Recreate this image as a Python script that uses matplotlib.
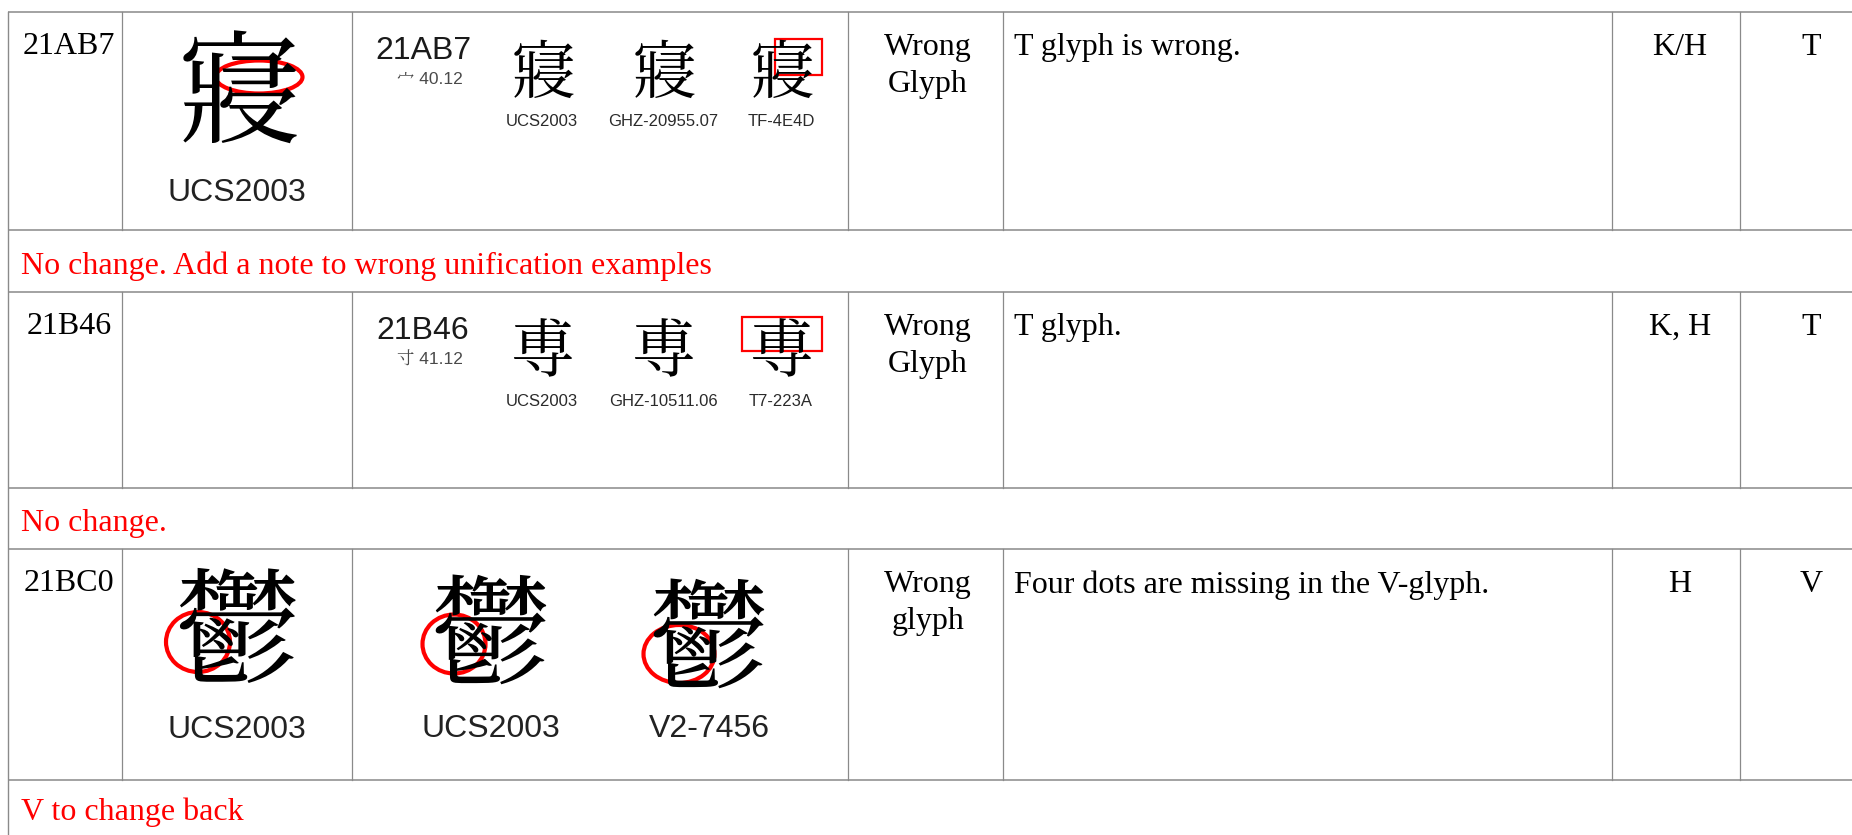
import matplotlib
matplotlib.use("Agg")
import matplotlib.pyplot as plt
from matplotlib import font_manager as fm
from matplotlib.ft2font import FT2Font
from matplotlib.patches import Ellipse, Rectangle

# ---------------- data (table content) ----------------
codes = ["21AB7", "21B46", "21BC0"]
code_points = [0x21AB7, 0x21B46, 0x21BC0]
# closest look-alike characters, used only when no installed font has the code point
lookalikes = ["寢", "尃", "鬱"]
radicals = ["宀 40.12", "寸 41.12", ""]
main_labels = ["UCS2003", "", "UCS2003"]
source_labels = [["UCS2003", "GHZ-20955.07", "TF-4E4D"],
                 ["UCS2003", "GHZ-10511.06", "T7-223A"],
                 ["UCS2003", "V2-7456"]]
issue_types = ["Wrong\nGlyph", "Wrong\nGlyph", "Wrong\nglyph"]
descriptions = ["T glyph is wrong.", "T glyph.", "Four dots are missing in the V-glyph."]
submitters = ["K/H", "K, H", "H"]
targets = ["T", "T", "V"]
notes = ["No change. Add a note to wrong unification examples",
         "No change.",
         "V to change back"]

# ---------------- fonts ----------------
names = {f.name for f in fm.fontManager.ttflist}
narrow = "Liberation Sans Narrow" in names
SANS_LABEL = ["Liberation Sans Narrow"] if narrow else ["Liberation Sans"]
BIG_LABEL = 27 if narrow else 23
SMALL_LABEL = 14.5 if narrow else 12

cjk_pref = ["Noto Serif CJK TC", "Noto Serif CJK SC", "Noto Serif CJK JP",
            "Noto Sans CJK TC", "Noto Sans CJK SC", "Noto Sans CJK JP",
            "Noto Sans CJK KR"]


def cjk_glyph(cp, alt):
    """Return (character, family): the real code point if some installed
    CJK family covers it, else the look-alike character."""
    for fam in cjk_pref:
        for f in fm.fontManager.ttflist:
            if f.name == fam:
                try:
                    if cp in FT2Font(f.fname).get_charmap():
                        return chr(cp), fam
                except Exception:
                    pass
    for fam in cjk_pref:
        if fam in names:
            return alt, fam
    return alt, "Noto Sans CJK TC"


SERIF = "Liberation Serif"
TS = 23  # body text size (pt)

# ---------------- figure ----------------
W, H = 1852, 835
fig = plt.figure(figsize=(W / 100, H / 100), dpi=100)
ax = fig.add_axes([0, 0, 1, 1])
ax.set_xlim(0, W)
ax.set_ylim(H, 0)
ax.axis("off")

col_x = [8, 122, 352, 848, 1003, 1612, 1740]
row_top = [12, 292, 549]
row_bot = [230, 488, 780]
note_bot = [292, 549, 835]

hcol = "#9b9b9b"
vcol = "#8a8a8a"
for y in row_top + row_bot:
    ax.plot([col_x[0], W], [y, y], color=hcol, lw=1.3, solid_capstyle="butt")
ax.plot([col_x[0], col_x[0]], [row_top[0], H], color=vcol, lw=1.0)
for t, b in zip(row_top, row_bot):
    for x in col_x[1:]:
        ax.plot([x, x], [t, b], color=vcol, lw=0.9)

red = "#ff0000"

for i in range(3):
    top = row_top[i]
    ch, fam = cjk_glyph(code_points[i], lookalikes[i])

    # text columns
    ax.text(69, top + 20, codes[i], family=SERIF, fontsize=TS, ha="center", va="top")
    ax.text(928, top + 21, issue_types[i], family=SERIF, fontsize=TS, ha="center",
            va="top", linespacing=1.38, multialignment="center")
    ax.text(1014, top + 21, descriptions[i], family=SERIF, fontsize=TS, ha="left", va="top")
    ax.text(1680, top + 21, submitters[i], family=SERIF, fontsize=TS, ha="center", va="top")
    ax.text(1811, top + 21, targets[i], family=SERIF, fontsize=TS, ha="center", va="top")

    # note row
    ax.text(21, (row_bot[i] + min(note_bot[i], row_bot[i] + 62)) / 2 + 5, notes[i],
            family=SERIF, fontsize=TS, color=red, ha="left", va="center")

    if i < 2:
        # column 2: code + radical, three small glyphs
        ax.text(423, top + 24, codes[i], family=["Liberation Sans"], fontsize=23,
                color="#1a1a1a", ha="center", va="top")
        ax.text(430, top + 68, radicals[i], family=["Liberation Sans", fam],
                fontsize=12.5, color="#4a4a4a", ha="center", va="center")
        gx = [542, 663, 781]
        for x, lab in zip(gx, source_labels[i]):
            ax.text(x, top + 63, ch, family=[fam], fontsize=46, ha="center", va="center")
            ax.text(x, top + 109, lab, family=SANS_LABEL, fontsize=SMALL_LABEL,
                    color="#2a2a2a", ha="center", va="center")
    if main_labels[i]:
        gx1 = 237
        gy1 = top + (88 if i == 0 else 90)
        ax.text(gx1, gy1, ch, family=[fam], fontsize=(88 if i == 0 else 90),
                ha="center", va="center")
        ax.text(gx1, top + 181, main_labels[i], family=SANS_LABEL, fontsize=BIG_LABEL,
                color="#222222", ha="center", va="center")

# row 3, column 2: two large glyphs
top = row_top[2]
ch3, fam3 = cjk_glyph(code_points[2], lookalikes[2])
for x, dy, lab in zip([491, 709], [93, 97], source_labels[2]):
    ax.text(x, top + dy, ch3, family=[fam3], fontsize=86, ha="center", va="center")
    ax.text(x, top + 180, lab, family=SANS_LABEL, fontsize=BIG_LABEL,
            color="#222222", ha="center", va="center")

# ---------------- red highlight marks ----------------
ax.add_patch(Ellipse((259, row_top[0] + 65), 87, 33, fill=False, ec=red, lw=3))
ax.add_patch(Rectangle((775, row_top[0] + 27), 47, 36, fill=False, ec=red, lw=1.6))
ax.add_patch(Rectangle((742, row_top[1] + 25), 80, 34, fill=False, ec=red, lw=1.6))
ax.add_patch(Ellipse((198, row_top[2] + 93), 64, 60, fill=False, ec=red, lw=3))
ax.add_patch(Ellipse((454, row_top[2] + 95), 63, 59, fill=False, ec=red, lw=3))
ax.add_patch(Ellipse((679, row_top[2] + 105), 71, 58, fill=False, ec=red, lw=3))

fig.savefig("out.png", dpi=100, facecolor="white")
